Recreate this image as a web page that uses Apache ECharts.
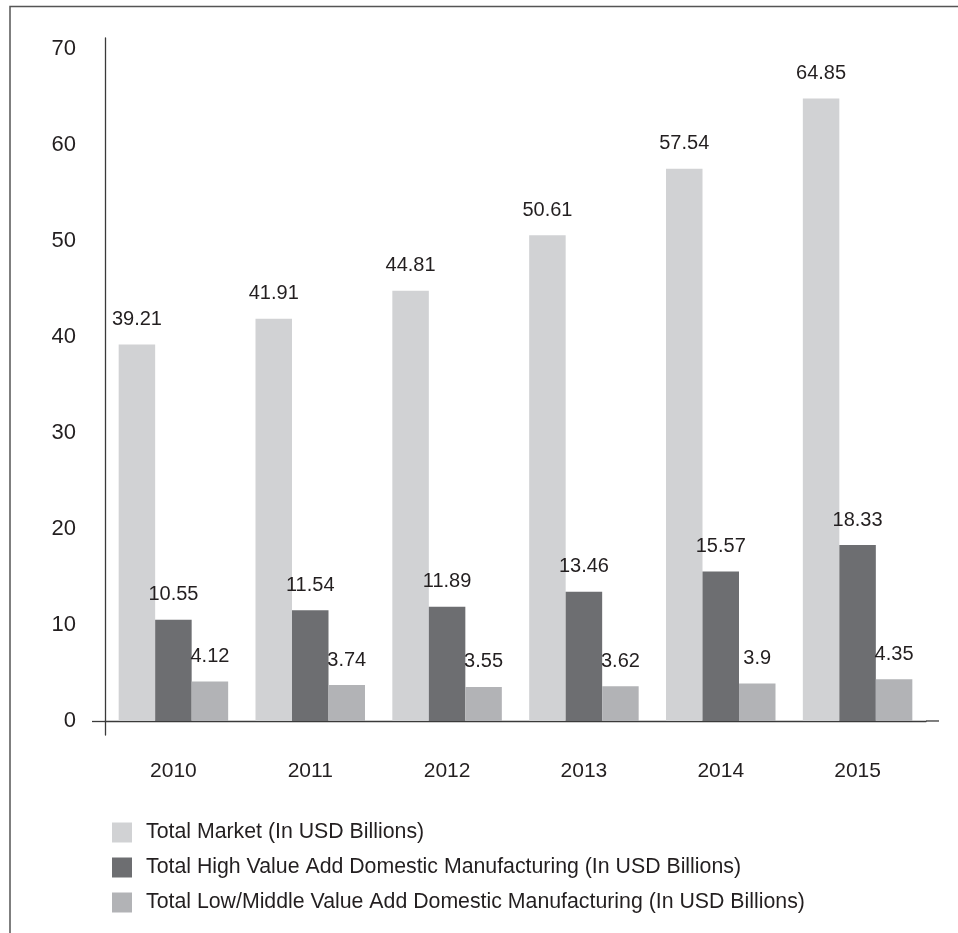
<!DOCTYPE html>
<html>
<head>
<meta charset="utf-8">
<title>Market size by year</title>
<script src="https://cdn.jsdelivr.net/npm/echarts@6/dist/echarts.min.js"></script>
<style>
  html, body { margin: 0; padding: 0; background: #ffffff; }
  #chart { width: 958px; height: 933px; }
</style>
</head>
<body>
<div id="chart"></div>
<script>
// Years on the category axis
const years = ['2010', '2011', '2012', '2013', '2014', '2015'];

// Series values (USD billions)
const totalMarket = [39.21, 41.91, 44.81, 50.61, 57.54, 64.85];
const highValueAdd = [10.55, 11.54, 11.89, 13.46, 15.57, 18.33];
const lowMiddleValueAdd = [4.12, 3.74, 3.55, 3.62, 3.9, 4.35];

// Series names shown in the legend
const seriesNames = [
  'Total Market (In USD Billions)',
  'Total High Value Add Domestic Manufacturing (In USD Billions)',
  'Total Low/Middle Value Add Domestic Manufacturing (In USD Billions)'
];

// Value-axis tick labels
const yTicks = [0, 10, 20, 30, 40, 50, 60, 70];

const FONT = '"Liberation Sans", Arial, Helvetica, sans-serif';
const TEXT = '#231f20';
const AXIS = '#3a3a3a';
const colors = ['#d1d2d4', '#6d6e71', '#b2b3b6'];

const chart = echarts.init(document.getElementById('chart'), null, { renderer: 'canvas' });

function barSeries(name, data, color) {
  return {
    name: name,
    type: 'bar',
    data: data,
    barWidth: 36.5,
    barGap: '0%',
    itemStyle: { color: color },
    label: {
      show: true,
      position: 'top',
      distance: 15,
      color: TEXT,
      fontFamily: FONT,
      fontSize: 20
    }
  };
}

chart.setOption({
  animation: false,
  textStyle: { fontFamily: FONT },
  grid: { left: 105, right: 32, top: 38, height: 697 },
  legend: {
    orient: 'vertical',
    left: 112,
    top: 822,
    padding: 0,
    itemWidth: 20,
    itemHeight: 20,
    itemGap: 14,
    icon: 'rect',
    textStyle: { color: TEXT, fontFamily: FONT, fontSize: 21.3, lineHeight: 20, padding: [0, 0, 0, 9] },
    data: seriesNames
  },
  xAxis: {
    type: 'category',
    data: years,
    axisLine: { onZero: true, lineStyle: { color: AXIS, width: 1.3 } },
    axisTick: { show: false },
    axisLabel: { margin: 26, color: TEXT, fontFamily: FONT, fontSize: 21 }
  },
  yAxis: {
    type: 'value',
    min: -1.46,
    max: 71.15,
    axisLine: { show: true, lineStyle: { color: AXIS, width: 1.3 } },
    axisTick: { show: true, customValues: [0], length: 13, lineStyle: { color: AXIS, width: 1.3 } },
    axisLabel: { customValues: yTicks, margin: 29, color: TEXT, fontFamily: FONT, fontSize: 22 },
    splitLine: { show: false }
  },
  series: [
    barSeries(seriesNames[0], totalMarket, colors[0]),
    barSeries(seriesNames[1], highValueAdd, colors[1]),
    barSeries(seriesNames[2], lowMiddleValueAdd, colors[2])
  ]
});

// Page frame plus the short overhang of the baseline past the last category
const gridRect = chart.getModel().getComponent('grid').coordinateSystem.getRect();
const zeroY = chart.convertToPixel({ yAxisIndex: 0 }, 0);
chart.setOption({
  graphic: [
    {
      type: 'rect',
      shape: { x: 10, y: 6.5, width: 1000, height: 1000 },
      style: { fill: null, stroke: '#555555', lineWidth: 1.5 },
      silent: true
    },
    {
      type: 'line',
      shape: { x1: gridRect.x + gridRect.width, y1: zeroY, x2: gridRect.x + gridRect.width + 13, y2: zeroY },
      style: { stroke: AXIS, lineWidth: 1.3 },
      silent: true
    }
  ]
});
</script>
</body>
</html>
